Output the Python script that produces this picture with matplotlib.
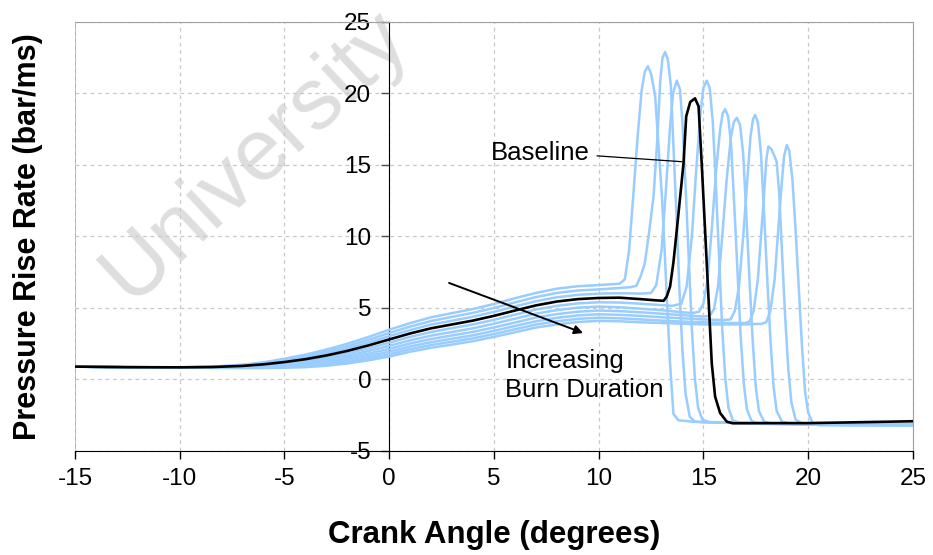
import matplotlib
matplotlib.use("Agg")
import matplotlib.pyplot as plt

plt.rcParams["font.family"] = ["Liberation Sans", "DejaVu Sans"]
plt.rcParams["axes.unicode_minus"] = False

# compression part, shared crank angle grid (deg)
crank_pre = [-15, -12.5, -10, -8.5, -7, -6, -5, -4, -3, -2, -1, 0, 1, 2, 3, 4, 5, 6, 7, 8, 9, 10]

baseline_pre = [0.90, 0.86, 0.85, 0.87, 0.95, 1.06, 1.22, 1.42, 1.68, 2.00, 2.38, 2.80,
                3.22, 3.58, 3.85, 4.12, 4.45, 4.82, 5.18, 5.45, 5.62, 5.70]
baseline_x = [11, 12, 12.6, 13.1, 13.25, 13.41, 13.57, 13.73, 13.9, 14.05, 14.18, 14.37,
              14.6, 14.77, 14.92, 15.08, 15.24, 15.4, 15.56, 15.8, 16.12, 16.4, 18, 20, 22, 25]
baseline_y = [5.72, 5.62, 5.55, 5.5, 5.8, 6.5, 8.2, 10.45, 12.9, 15.1, 18.4, 19.4,
              19.66, 19.1, 15.1, 10.45, 5.8, 1.13, -1.2, -2.35, -2.95, -3.06, -3.05, -3.05, -3.0, -2.92]

# burn duration sweep, shortest first
sweep_pre = [
    [0.90, 0.86, 0.85, 0.89, 1.03, 1.20, 1.45, 1.74, 2.09, 2.50, 2.97, 3.48, 3.94, 4.35, 4.64, 4.93, 5.28, 5.68, 6.05, 6.35, 6.52, 6.60],
    [0.90, 0.86, 0.85, 0.88, 1.00, 1.15, 1.37, 1.63, 1.95, 2.33, 2.77, 3.25, 3.70, 4.09, 4.38, 4.66, 5.00, 5.39, 5.76, 6.05, 6.22, 6.30],
    [0.90, 0.86, 0.85, 0.88, 0.97, 1.10, 1.30, 1.53, 1.82, 2.17, 2.58, 3.03, 3.46, 3.84, 4.11, 4.39, 4.73, 5.11, 5.47, 5.75, 5.92, 6.00],
    [0.90, 0.86, 0.85, 0.86, 0.92, 1.01, 1.14, 1.31, 1.54, 1.83, 2.18, 2.57, 2.98, 3.32, 3.59, 3.85, 4.17, 4.53, 4.89, 5.15, 5.32, 5.40],
    [0.90, 0.86, 0.85, 0.85, 0.89, 0.97, 1.07, 1.21, 1.41, 1.67, 1.99, 2.35, 2.74, 3.07, 3.32, 3.58, 3.90, 4.25, 4.60, 4.85, 5.02, 5.10],
    [0.90, 0.86, 0.85, 0.84, 0.87, 0.92, 1.00, 1.11, 1.28, 1.52, 1.81, 2.14, 2.52, 2.83, 3.08, 3.33, 3.64, 3.98, 4.33, 4.57, 4.74, 4.82],
    [0.90, 0.86, 0.85, 0.83, 0.85, 0.88, 0.93, 1.02, 1.17, 1.37, 1.64, 1.94, 2.31, 2.61, 2.85, 3.09, 3.40, 3.74, 4.07, 4.31, 4.48, 4.56],
    [0.90, 0.86, 0.85, 0.82, 0.82, 0.84, 0.87, 0.94, 1.06, 1.24, 1.48, 1.76, 2.12, 2.41, 2.64, 2.88, 3.18, 3.51, 3.84, 4.07, 4.24, 4.32],
    [0.90, 0.86, 0.85, 0.81, 0.80, 0.80, 0.82, 0.86, 0.96, 1.12, 1.34, 1.60, 1.94, 2.22, 2.44, 2.68, 2.98, 3.30, 3.63, 3.85, 4.02, 4.10],
]
sweep_x = [
    [10.5, 11.0, 11.25, 11.45, 11.65, 11.85, 12.05, 12.2, 12.35, 12.5, 12.7, 12.85, 13.02, 13.15,
     13.25, 13.41, 13.57, 13.8, 14.5, 16, 18, 20, 22, 25],
    [10.5, 11.0, 11.5, 11.8, 12.0, 12.2, 12.4, 12.62, 12.8, 12.94, 13.05, 13.17, 13.3, 13.45, 13.55,
     13.7, 13.85, 14.0, 14.15, 14.35, 14.6, 15, 17, 20, 22, 25],
    [10.5, 11, 11.5, 12, 12.5, 12.75, 13.0, 13.2, 13.4, 13.55, 13.73, 13.88, 14.0, 14.15, 14.3,
     14.45, 14.6, 14.75, 14.95, 15.3, 17, 20, 22, 25],
    [11, 12, 13, 13.5, 13.95, 14.2, 14.45, 14.65, 14.85, 15.0, 15.16, 15.3, 15.45, 15.6, 15.75,
     15.9, 16.05, 16.2, 16.4, 16.8, 18, 20, 22, 25],
    [11, 12, 13, 14, 14.5, 14.8, 15.0, 15.2, 15.4, 15.6, 15.8, 15.92, 16.04, 16.18, 16.32, 16.48,
     16.63, 16.78, 16.93, 17.08, 17.3, 17.7, 20, 22, 25],
    [11, 12, 13, 14, 15, 15.3, 15.5, 15.7, 15.9, 16.1, 16.3, 16.45, 16.6, 16.75, 16.9, 17.05,
     17.2, 17.35, 17.5, 17.65, 17.9, 18.3, 20, 22, 25],
    [11, 12, 13, 14, 15, 16, 16.3, 16.5, 16.7, 16.9, 17.1, 17.25, 17.37, 17.47, 17.6, 17.75,
     17.9, 18.05, 18.2, 18.35, 18.5, 18.75, 19.2, 22, 25],
    [11, 12, 13, 14, 15, 16, 17, 17.2, 17.4, 17.6, 17.75, 17.9, 18.0, 18.1, 18.25, 18.4, 18.5,
     18.62, 18.75, 18.9, 19.05, 19.2, 19.4, 19.8, 22, 25],
    [11, 12, 13, 14, 15, 16, 17, 17.8, 18.0, 18.2, 18.4, 18.55, 18.7, 18.85, 18.98, 19.1, 19.25,
     19.4, 19.55, 19.7, 19.85, 20.0, 20.2, 20.5, 22, 25],
]
sweep_y = [
    [6.65, 6.7, 7.0, 9.0, 12.8, 16.8, 20.2, 21.5, 21.9, 21.4, 19.8, 16.5, 12.8, 9.0,
     5.8, 1.1, -2.4, -2.85, -2.95, -3.0, -3.05, -3.1, -3.1, -3.15],
    [6.35, 6.4, 6.45, 6.55, 7.2, 8.1, 10.2, 12.8, 16.8, 20.9, 22.5, 22.9, 22.4, 20.5, 17.0,
     12.0, 6.5, 2.0, -1.0, -2.6, -2.95, -3.0, -3.05, -3.1, -3.1, -3.15],
    [6.02, 6.03, 6.02, 6.0, 6.05, 6.6, 9.0, 13.0, 17.5, 20.0, 20.9, 20.3, 18.0, 13.5, 8.5,
     3.5, 0.0, -2.0, -2.8, -3.0, -3.05, -3.1, -3.1, -3.15],
    [5.38, 5.3, 5.2, 5.15, 5.3, 6.5, 10.0, 14.5, 18.5, 20.4, 20.9, 20.4, 18.0, 13.5, 8.5,
     3.5, 0.0, -2.0, -2.85, -3.05, -3.1, -3.1, -3.15, -3.15],
    [5.05, 4.95, 4.85, 4.7, 4.65, 4.75, 5.3, 7.0, 10.5, 14.5, 17.5, 18.6, 18.9, 18.4, 16.5, 12.0,
     7.5, 3.0, -0.3, -2.1, -2.9, -3.1, -3.15, -3.15, -3.2],
    [4.78, 4.7, 4.6, 4.5, 4.4, 4.45, 4.9, 6.5, 10.0, 13.8, 16.8, 18.0, 18.3, 17.8, 15.8, 11.5,
     7.0, 2.8, -0.5, -2.2, -2.95, -3.1, -3.15, -3.15, -3.2],
    [4.52, 4.45, 4.35, 4.28, 4.2, 4.15, 4.2, 4.8, 6.5, 10.0, 14.0, 17.0, 18.2, 18.5, 18.0, 15.8,
     11.5, 7.0, 2.8, -0.5, -2.2, -2.95, -3.1, -3.15, -3.2],
    [4.28, 4.2, 4.12, 4.05, 4.0, 3.95, 3.95, 4.05, 4.8, 7.0, 10.0, 13.0, 15.3, 16.3, 16.1, 15.6, 15.2,
     13.0, 9.0, 4.5, 0.8, -1.6, -2.8, -3.15, -3.2, -3.2],
    [4.07, 4.0, 3.95, 3.9, 3.85, 3.85, 3.85, 3.9, 4.0, 4.8, 7.0, 10.0, 13.0, 15.6, 16.4, 16.0, 14.0,
     10.5, 6.5, 2.5, -0.8, -2.3, -3.0, -3.2, -3.2, -3.2],
]

x_ticks = [-15, -10, -5, 0, 5, 10, 15, 20, 25]
y_ticks = [-5, 0, 5, 10, 15, 20, 25]

fig = plt.figure(figsize=(9.33, 5.55), dpi=100)
ax = fig.add_axes([0.0804, 0.1874, 0.898, 0.773])

for pre, px, py in zip(sweep_pre, sweep_x, sweep_y):
    ax.plot(crank_pre + px, pre + py, color="#99ccff", lw=1.8, zorder=3)
ax.plot(crank_pre + baseline_x, baseline_pre + baseline_y, color="black", lw=1.9, zorder=4)

ax.set_xlim(-15, 25)
ax.set_ylim(-5, 25)
ax.set_xticks(x_ticks)
ax.set_yticks(y_ticks)

# dashed grid, frame in grey, y axis drawn through 0 deg
ax.grid(True, color="#c8c8c8", ls=(0, (3, 3)), lw=0.9, zorder=0)
ax.spines["left"].set_position(("data", 0))
ax.spines["left"].set_color("black")
ax.spines["bottom"].set_color("black")
for side in ("top", "right"):
    ax.spines[side].set_color("#a0a0a0")
ax.axvline(-15, color="#a0a0a0", lw=1.2, zorder=1)

ax.tick_params(axis="x", direction="out", length=6, width=1, labelsize=17.5, pad=6)
ax.tick_params(axis="y", direction="out", length=6, width=1, color="#505050",
               labelsize=17.5, pad=7)

ax.set_xlabel("Crank Angle (degrees)", fontsize=22.5, fontweight="bold")
ax.xaxis.set_label_coords(0.5, -0.16)
ax.set_ylabel("Pressure Rise Rate (bar/ms)", fontsize=22, fontweight="bold")
ax.yaxis.set_label_coords(-0.038, 0.5)

ax.text(-6.4, 15.6, "University", fontsize=63, color="#dedede", rotation=43,
        ha="center", va="center", rotation_mode="anchor", zorder=1)

ax.annotate("Baseline", xy=(13.97, 15.23), xytext=(4.87, 15.84), fontsize=18.5,
            ha="left", va="center",
            arrowprops=dict(arrowstyle="-", color="black", lw=0.9,
                            relpos=(1, 0.4), shrinkA=3, shrinkB=0))
ax.annotate("", xy=(9.26, 3.25), xytext=(2.86, 6.75),
            arrowprops=dict(arrowstyle="-|>", color="black", lw=1.4,
                            mutation_scale=13, shrinkA=0, shrinkB=0))
ax.text(5.54, 0.3, "Increasing\nBurn Duration", fontsize=18.5, ha="left", va="center",
        linespacing=1.25)

fig.savefig("out.png", dpi=100)
